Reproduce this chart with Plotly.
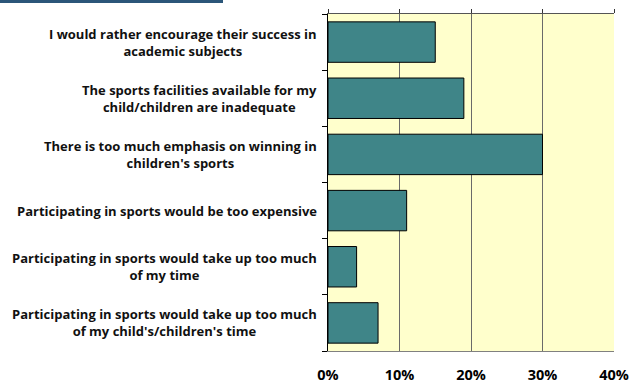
import plotly.graph_objects as go

# Reasons given, in display order (top to bottom)
reasons = [
    "I would rather encourage their success in<br>academic subjects",
    "The sports facilities available for my<br>child/children are inadequate",
    "There is too much emphasis on winning in<br>children's sports",
    "Participating in sports would be too expensive",
    "Participating in sports would take up too much<br>of my time",
    "Participating in sports would take up too much<br>of my child's/children's time",
]
shares = [15, 19, 30, 11, 4, 7]  # percent of respondents

x_ticks = [0, 10, 20, 30, 40]
x_tick_text = ["0%", "10%", "20%", "30%", "40%"]

positions = list(range(len(reasons)))
boundaries = [p - 0.5 for p in positions] + [len(reasons) - 0.5]

FONT = "Open Sans"

fig = go.Figure()
fig.add_trace(go.Bar(
    x=shares,
    y=positions,
    orientation="h",
    width=0.72,
    marker=dict(color="#3f8588", line=dict(color="#000000", width=1)),
    hoverinfo="x",
))
# empty trace so the top tick axis is laid out
fig.add_trace(go.Scatter(x=[], y=[], xaxis="x2", mode="markers",
                         showlegend=False, hoverinfo="skip"))

# Category labels: centred multi-line text right-aligned against the axis
for p, text in zip(positions, reasons):
    fig.add_annotation(
        x=0, xref="paper", y=p, yref="y",
        text=text, showarrow=False,
        xanchor="right", align="center", xshift=-9,
        font=dict(family=FONT, size=13, color="#111111", weight="bold"),
    )

W, H = 632, 385
ml, mr, mt, mb = 328, 18, 14, 34
pw = W - ml - mr

# Dark header strip across the top-left edge
fig.add_shape(
    type="rect", xref="paper", yref="paper",
    x0=-ml / pw, x1=(223 - ml) / pw,
    y0=1 + mt / (H - mt - mb), y1=1 + (mt - 3) / (H - mt - mb),
    line=dict(width=0), fillcolor="#2b5679",
)

fig.update_layout(
    width=W, height=H,
    margin=dict(l=ml, r=mr, t=mt, b=mb, autoexpand=False),
    paper_bgcolor="#ffffff",
    plot_bgcolor="#ffffcc",
    showlegend=False,
    # bottom axis: percentage labels and vertical gridlines
    xaxis=dict(
        side="bottom", range=[0, 40], tickvals=x_ticks,
        ticktext=x_tick_text, ticks="outside", ticklen=11,
        tickcolor="rgba(0,0,0,0)", automargin=False,
        tickfont=dict(family=FONT, size=14.5, color="#000000", weight="bold"),
        showline=True, linecolor="#808080", linewidth=1,
        showgrid=True, gridcolor="#6a6a6a", gridwidth=1, zeroline=False,
    ),
    # top axis: line with outward tick marks, no labels
    xaxis2=dict(
        overlaying="x", side="top", range=[0, 40], tickvals=x_ticks,
        showticklabels=False, ticks="outside", ticklen=4, automargin=False,
        tickcolor="#333333", showline=True, linecolor="#555555", linewidth=1,
        showgrid=False, zeroline=False,
    ),
    yaxis=dict(
        range=[len(reasons) - 0.5, -0.5],
        tickvals=boundaries, showticklabels=False, automargin=False,
        ticks="outside", ticklen=5, tickcolor="#000000",
        showline=True, linecolor="#000000", linewidth=1,
        showgrid=False, zeroline=False,
    ),
)

fig.write_html("out.html")
